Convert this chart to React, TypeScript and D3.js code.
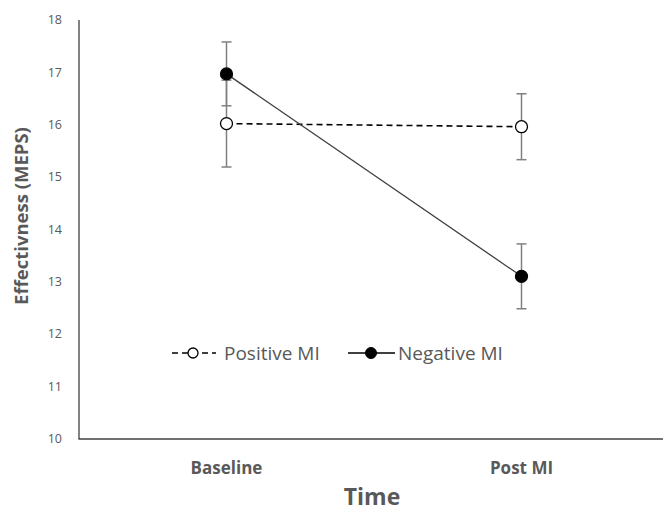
import React from "react";
import * as d3 from "d3";

const categories = ["Baseline", "Post MI"];
const seriesNames = ["Positive MI", "Negative MI"];
const positiveValues = [16.02, 15.96];
const positiveErrors = [0.83, 0.63];
const negativeValues = [16.97, 13.1];
const negativeErrors = [0.61, 0.62];
const yTicks = [10, 11, 12, 13, 14, 15, 16, 17, 18];

const W = 663;
const H = 512;
const FONT = "'Open Sans', 'Liberation Sans', sans-serif";
const TEXT = "#595959";

export default function App() {
  const x = d3.scaleBand<string>().domain(categories).range([79, 669]);
  const y = d3.scaleLinear().domain([10, 18]).range([438.5, 20]);
  const cx = (c: string) => (x(c) ?? 0) + x.bandwidth() / 2;

  const series = [
    { name: seriesNames[0], values: positiveValues, errors: positiveErrors, dash: "6,4", fill: "#ffffff" },
    { name: seriesNames[1], values: negativeValues, errors: negativeErrors, dash: "", fill: "#000000" },
  ];

  const line = d3
    .line<number>()
    .x((_, i) => cx(categories[i]))
    .y((d) => y(d));

  return (
    <svg
      width={W}
      height={H}
      style={{ position: "absolute", left: 0, top: 0, background: "#fff" }}
      fontFamily={FONT}
    >
      <rect width={W} height={H} fill="#fff" />
      {/* axes */}
      <line x1={79} x2={79} y1={20} y2={439} stroke="#404040" strokeWidth={1.3} />
      <line x1={78.5} x2={W} y1={439} y2={439} stroke="#404040" strokeWidth={1.3} />
      {yTicks.map((t) => (
        <text key={t} x={62} y={y(t)} dy="0.35em" textAnchor="end" fontSize={12.5} fill={TEXT}>
          {t}
        </text>
      ))}
      {categories.map((c) => (
        <text key={c} x={cx(c)} y={474} textAnchor="middle" fontSize={17} fontWeight="bold" fill={TEXT}>
          {c}
        </text>
      ))}
      <text x={372} y={505} textAnchor="middle" fontSize={23} fontWeight="bold" fill={TEXT}>
        Time
      </text>
      <text
        transform={`translate(28,216) rotate(-90)`}
        textAnchor="middle"
        fontSize={18.5}
        fontWeight="bold"
        fill={TEXT}
      >
        Effectivness (MEPS)
      </text>
      {/* error bars */}
      {series.map((s) =>
        s.values.map((v, i) => {
          const px = cx(categories[i]);
          const top = y(v + s.errors[i]);
          const bot = y(v - s.errors[i]);
          return (
            <g key={s.name + i} stroke="#808080" strokeWidth={1.5}>
              <line x1={px} x2={px} y1={top} y2={bot} />
              <line x1={px - 5} x2={px + 5} y1={top} y2={top} />
              <line x1={px - 5} x2={px + 5} y1={bot} y2={bot} />
            </g>
          );
        })
      )}
      {/* lines */}
      {series.map((s) => (
        <path
          key={s.name}
          d={line(s.values) ?? ""}
          fill="none"
          stroke={s.dash ? "#000" : "#404040"}
          strokeWidth={s.dash ? 1.6 : 1.3}
          strokeDasharray={s.dash || undefined}
        />
      ))}
      {/* markers */}
      {series.map((s) =>
        s.values.map((v, i) => (
          <circle
            key={s.name + "m" + i}
            cx={cx(categories[i])}
            cy={y(v)}
            r={6}
            fill={s.fill}
            stroke="#000"
            strokeWidth={1.3}
          />
        ))
      )}
      {/* legend */}
      <g>
        <line x1={172} x2={216} y1={353} y2={353} stroke="#000" strokeWidth={1.6} strokeDasharray="6,4" />
        <circle cx={193} cy={353} r={5} fill="#fff" stroke="#000" strokeWidth={1.3} />
        <text x={224} y={360} fontSize={19} fill={TEXT}>
          {seriesNames[0]}
        </text>
        <line x1={348} x2={395} y1={353} y2={353} stroke="#000" strokeWidth={1.4} />
        <circle cx={371} cy={353} r={5.5} fill="#000" stroke="#000" strokeWidth={1} />
        <text x={398} y={360} fontSize={19} fill={TEXT}>
          {seriesNames[1]}
        </text>
      </g>
    </svg>
  );
}
